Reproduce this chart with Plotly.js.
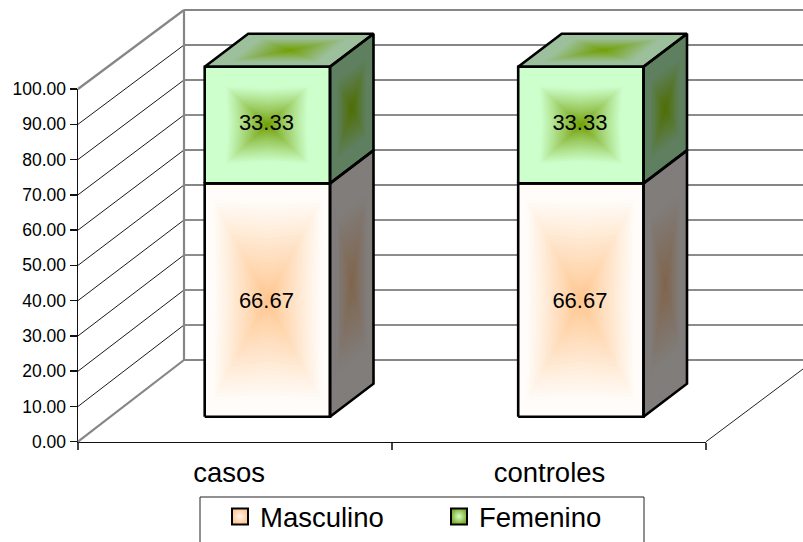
<!DOCTYPE html>
<html>
<head>
<meta charset="utf-8">
<script src="https://cdn.plot.ly/plotly-3.0.1.min.js"></script>
<style>html,body{margin:0;padding:0;background:#fff;overflow:hidden}</style>
</head>
<body>
<div id="chart" style="width:803px;height:542px"></div>
<script>
// Chart values
const categories = ['casos', 'controles'];
const masculino = [66.67, 66.67];
const femenino = [33.33, 33.33];
const valueTicks = [0, 10, 20, 30, 40, 50, 60, 70, 80, 90, 100];
const categoryLabelAt = [-0.122, 0.9];

// Back-wall gridlines alternate between two weights
const wallHeavy = [0, 50, 60, 80, 90, 100];
const wallLight = [10, 20, 30, 40, 70];

// Page geometry of the oblique 3-D frame
const W = 803, H = 542;
const UNIT_X = 313.5, UNIT_Y = 3.5;      // pixels per category, pixels per percent
const BAR_ZERO_PX = 416.7, BAR_X0_PX = 267.35;
const AXIS_ZERO_PX = 441.7, AXIS_TOP_PX = 89, AXIS_LEFT_PX = 78, AXIS_RIGHT_PX = 706;
const WALL_ZERO_PX = 360, WALL_LEFT_PX = 184;
const HALF_W = 62.65 / UNIT_X, DEPTH_X = 43.5 / UNIT_X, DEPTH_Y = 33 / UNIT_Y;

const px2x = p => (p - BAR_X0_PX) / UNIT_X;
const px2y = p => (BAR_ZERO_PX - p) / UNIT_Y;
const frontY = v => px2y(AXIS_ZERO_PX - v * (AXIS_ZERO_PX - AXIS_TOP_PX) / 100);
const wallY = v => px2y(WALL_ZERO_PX - v * UNIT_Y);

const traces = [];
const layerOf = {xaxis: 'x2', yaxis: 'y2', hoverinfo: 'skip', showlegend: false};

function pushLines(xs, ys, color, width) {
  traces.push({...layerOf, type: 'scatter', mode: 'lines', x: xs, y: ys,
    line: {color, width, simplify: false}});
}

// Left wall, floor and back wall
function frameLines(values, wallValues, color, width) {
  const xs = [], ys = [];
  values.forEach(v => {
    xs.push(px2x(AXIS_LEFT_PX), px2x(WALL_LEFT_PX), null);
    ys.push(frontY(v), wallY(v), null);
  });
  wallValues.forEach(v => {
    xs.push(px2x(WALL_LEFT_PX), px2x(W), null);
    ys.push(wallY(v), wallY(v), null);
  });
  pushLines(xs, ys, color, width);
}
frameLines([10, 20, 30, 40, 50, 60, 70, 80, 90], wallLight, '#1a1a1a', 1);
frameLines([0, 100], wallHeavy, '#868686', 2.2);
pushLines([px2x(WALL_LEFT_PX), px2x(WALL_LEFT_PX)], [wallY(0), wallY(100)], '#868686', 2.2);
pushLines([px2x(AXIS_RIGHT_PX), px2x(W)], [frontY(0), px2y(369)], '#222222', 1);

// Colour helpers
const hex = c => [1, 3, 5].map(i => parseInt(c.substr(i, 2), 16));
const mix = (a, b, s) => {
  const A = hex(a), B = hex(b);
  return 'rgb(' + A.map((v, i) => Math.round(v + (B[i] - v) * s)).join(',') + ')';
};

// A face is shaded from its centre outwards with nested star-shaped rings
const LEVELS = 30;
function ring(q, t, bow) {
  const cx = q.reduce((s, p) => s + p[0], 0) / 4;
  const cy = q.reduce((s, p) => s + p[1], 0) / 4;
  const k = Math.pow(t, bow);
  const xs = [], ys = [];
  q.forEach((p, i) => {
    const n = q[(i + 1) % 4];
    xs.push(cx + (p[0] - cx) * t, cx + ((p[0] + n[0]) / 2 - cx) * k);
    ys.push(cy + (p[1] - cy) * t, cy + ((p[1] + n[1]) / 2 - cy) * k);
  });
  xs.push(xs[0], null);
  ys.push(ys[0], null);
  return [xs, ys];
}
function shadeFaces(quads, inner, outer, reach, bow) {
  for (let l = LEVELS; l >= 1; l--) {
    const t = l / LEVELS;
    const xs = [], ys = [];
    quads.forEach(q => {
      const r = ring(q, t, bow);
      xs.push(...r[0]);
      ys.push(...r[1]);
    });
    traces.push({...layerOf, type: 'scatter', mode: 'lines', x: xs, y: ys, fill: 'toself',
      fillcolor: mix(inner, outer, Math.min(1, t / reach)), line: {width: 0}});
  }
}

const frontQuad = (i, a, b) => [[i - HALF_W, a], [i + HALF_W, a], [i + HALF_W, b], [i - HALF_W, b]];
const sideQuad = (i, a, b) => [[i + HALF_W, a], [i + HALF_W + DEPTH_X, a + DEPTH_Y],
  [i + HALF_W + DEPTH_X, b + DEPTH_Y], [i + HALF_W, b]];
const topQuad = (i, b) => [[i - HALF_W, b], [i + HALF_W, b],
  [i + HALF_W + DEPTH_X, b + DEPTH_Y], [i - HALF_W + DEPTH_X, b + DEPTH_Y]];

const idx = categories.map((_, i) => i);
const tops = idx.map(i => masculino[i] + femenino[i]);

shadeFaces(idx.map(i => sideQuad(i, 0, masculino[i])), '#80644a', '#807d7b', 0.7, 1);
shadeFaces(idx.map(i => frontQuad(i, 0, masculino[i])), '#ffc58c', '#fffcf9', 0.88, 1.12);
shadeFaces(idx.map(i => sideQuad(i, masculino[i], tops[i])), '#4f6e00', '#5f8060', 0.7, 1);
shadeFaces(idx.map(i => frontQuad(i, masculino[i], tops[i])), '#6f9c00', '#ccffcc', 0.68, 1.12);
shadeFaces(idx.map(i => topQuad(i, tops[i])), '#709f00', '#9cc09c', 0.72, 1);

// Bar outlines
const outlineX = [], outlineY = [];
function addOutline(q) {
  q.concat([q[0]]).forEach(p => { outlineX.push(p[0]); outlineY.push(p[1]); });
  outlineX.push(null);
  outlineY.push(null);
}
idx.forEach(i => {
  addOutline(sideQuad(i, 0, masculino[i]));
  addOutline(sideQuad(i, masculino[i], tops[i]));
  addOutline(topQuad(i, tops[i]));
  addOutline(frontQuad(i, 0, masculino[i]));
  addOutline(frontQuad(i, masculino[i], tops[i]));
});
pushLines(outlineX, outlineY, '#000000', 2.6);

// Value labels in the middle of each stacked segment
const labelFont = {family: 'Liberation Sans, Arial, sans-serif', size: 22, color: '#000'};
const LABEL_DROP = 0.6;
traces.push({...layerOf, type: 'scatter', mode: 'text', x: idx.map(i => i - 0.003),
  y: masculino.map(v => v / 2 - LABEL_DROP),
  text: masculino.map(v => v.toFixed(2)), textposition: 'middle center', textfont: labelFont});
traces.push({...layerOf, type: 'scatter', mode: 'text', x: idx.map(i => i - 0.003),
  y: idx.map(i => masculino[i] + femenino[i] / 2 + 0.2),
  text: femenino.map(v => v.toFixed(2)), textposition: 'middle center', textfont: labelFont});

// Legend entries
traces.push({type: 'scatter', mode: 'markers', name: 'Masculino', xaxis: 'x', yaxis: 'y',
  x: [null], y: [null], hoverinfo: 'skip',
  marker: {symbol: 'square', size: 16, color: '#ffc896',
    gradient: {type: 'radial', color: '#fff3e8'}, line: {color: '#000', width: 2}}});
traces.push({type: 'scatter', mode: 'markers', name: 'Femenino', xaxis: 'x', yaxis: 'y',
  x: [null], y: [null], hoverinfo: 'skip',
  marker: {symbol: 'square', size: 16, color: '#7fb030',
    gradient: {type: 'radial', color: '#d4ffc4'}, line: {color: '#000', width: 2}}});

const font = {family: 'Liberation Sans, Arial, sans-serif', color: '#000'};

const layout = {
  width: W, height: H,
  margin: {l: 0, r: 0, t: 0, b: 0, pad: 0, autoexpand: false},
  paper_bgcolor: '#ffffff', plot_bgcolor: 'rgba(0,0,0,0)',
  xaxis: {
    domain: [AXIS_LEFT_PX / W, AXIS_RIGHT_PX / W], range: [0, 2], anchor: 'y',
    tickvals: [0, 1, 2], ticks: 'outside', ticklen: 7, tickcolor: '#444', tickwidth: 1.5,
    showticklabels: false, showgrid: false, zeroline: false,
    showline: true, linecolor: '#111', linewidth: 1.5
  },
  yaxis: {
    domain: [(H - AXIS_ZERO_PX) / H, (H - AXIS_TOP_PX) / H], range: [0, 100], anchor: 'x',
    tickvals: valueTicks, ticktext: valueTicks.map(v => v.toFixed(2)),
    ticks: 'outside', ticklen: 7, tickcolor: '#111', tickwidth: 1.5,
    tickfont: {...font, size: 17.5}, showgrid: false, zeroline: false,
    showline: true, linecolor: '#111', linewidth: 1.5
  },
  xaxis2: {
    domain: [0, 1], range: [px2x(0), px2x(W)], anchor: 'free', position: (H - AXIS_ZERO_PX) / H,
    tickvals: categoryLabelAt, ticktext: categories, ticks: 'outside', ticklen: 6,
    tickcolor: 'rgba(0,0,0,0)', tickfont: {...font, size: 27.5},
    showgrid: false, zeroline: false, showline: false
  },
  yaxis2: {domain: [0, 1], range: [px2y(H), px2y(0)], anchor: 'x2', visible: false},
  showlegend: true,
  legend: {
    orientation: 'h', x: 220 / W, y: (H - 492) / H, xanchor: 'left', yanchor: 'top',
    font: {...font, size: 27.5}, bgcolor: 'rgba(0,0,0,0)', borderwidth: 0,
    itemsizing: 'trace', entrywidth: 174, entrywidthmode: 'pixels', itemclick: false, itemdoubleclick: false
  },
  shapes: [{
    type: 'rect', xref: 'paper', yref: 'paper',
    x0: 200 / W, x1: 644 / W, y0: -0.05, y1: (H - 497) / H,
    line: {color: '#222', width: 1}, fillcolor: 'rgba(0,0,0,0)', layer: 'above'
  }]
};

Plotly.newPlot('chart', traces, layout, {staticPlot: true, displayModeBar: false});
</script>
</body>
</html>
